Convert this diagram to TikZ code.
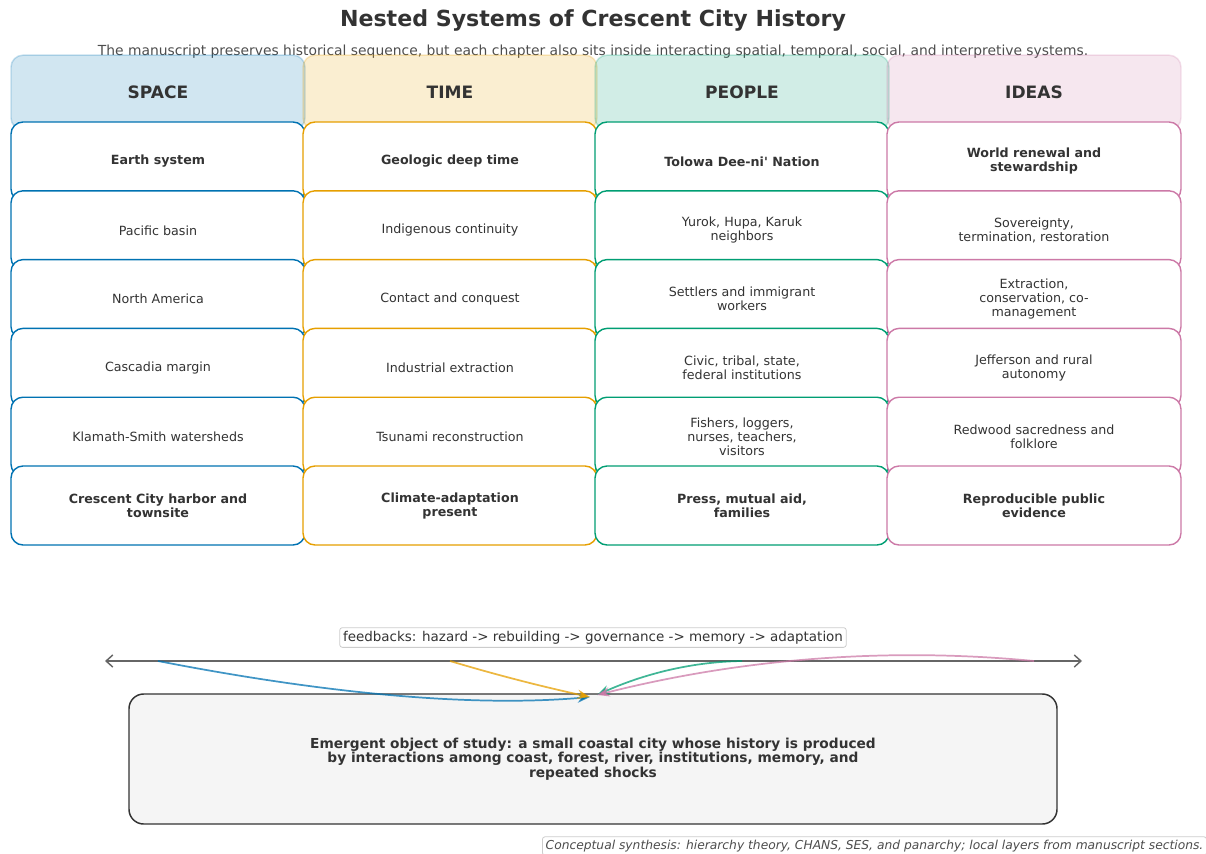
\documentclass[tikz,border=0pt]{standalone}
\usepackage{fontspec}
\setmainfont{DejaVu Sans}
\newfontfamily\plainf{DejaVu Sans}
\usetikzlibrary{arrows.meta}
\definecolor{cblue}{HTML}{0072B2}
\definecolor{corange}{HTML}{E69F00}
\definecolor{cgreen}{HTML}{009E73}
\definecolor{cpink}{HTML}{CC79A7}
\definecolor{txt}{HTML}{333333}
\definecolor{subtxt}{HTML}{4D4D4D}
\definecolor{lgray}{HTML}{CCCCCC}
\definecolor{egray}{HTML}{F5F5F5}
\definecolor{axgray}{HTML}{666666}
\begin{document}
\begin{tikzpicture}[x=0.75pt,y=-0.75pt,
  hdr/.style={rounded corners=9pt, minimum width=220.5pt, minimum height=56pt,
    fill=#1, fill opacity=0.18, draw=#1, draw opacity=0.22, line width=1.1pt,
    text opacity=1, text=txt, inner sep=0pt},
  hlab/.style={text=txt, font=\fontsize{12.8}{15}\selectfont\bfseries},
  cell/.style={rounded corners=9pt, minimum width=220.5pt, minimum height=59.25pt,
    fill=white, draw=#1, line width=1.05pt, align=center, text=txt,
    font=\fontsize{9.5}{10.5}\selectfont, inner sep=0pt},
  bcell/.style={cell=#1, font=\fontsize{9.5}{10.5}\selectfont\bfseries},
  feed/.style={line width=1.3pt, draw=#1, draw opacity=0.75, -{Stealth[length=9.5pt,width=7pt]}},
  tag/.style={draw=lgray, fill=white, rounded corners=2pt, line width=0.6pt, inner xsep=2.5pt, inner ysep=2.5pt}
]
\useasboundingbox (0,0) rectangle (1206,853);

% title
\node[text=txt, font=\fontsize{16.6}{19}\selectfont\bfseries] (title) at (593,20) {Nested Systems of Crescent City History};
\node[text=subtxt, font=\fontsize{10.4}{12}\selectfont] (sub) at (593,52) {The manuscript preserves historical sequence, but each chapter also sits inside interacting spatial, temporal, social, and interpretive systems.};

% headers
\node[hdr=cblue] (hs) at (158,92.5) {};
\node[hdr=corange] (ht) at (450,92.5) {};
\node[hdr=cgreen] (hp) at (742,92.5) {};
\node[hdr=cpink] (hi) at (1034,92.5) {};
\node[hlab] (hsl) at (158,92.5) {SPACE};
\node[hlab] (htl) at (450,92.5) {TIME};
\node[hlab] (hpl) at (742,92.5) {PEOPLE};
\node[hlab] (hil) at (1034,92.5) {IDEAS};

% SPACE column
\node[bcell=cblue] (s1) at (158,161.5) {Earth system};
\node[cell=cblue] (s2) at (158,230.3) {Pacific basin};
\node[cell=cblue] (s3) at (158,299.1) {North America};
\node[cell=cblue] (s4) at (158,367.9) {Cascadia margin};
\node[cell=cblue] (s5) at (158,436.7) {Klamath-Smith watersheds};
\node[bcell=cblue] (s6) at (158,505.5) {Crescent City harbor and\\townsite};

% TIME column
\node[bcell=corange] (t1) at (450,161.5) {Geologic deep time};
\node[cell=corange] (t2) at (450,230.3) {Indigenous continuity};
\node[cell=corange] (t3) at (450,299.1) {Contact and conquest};
\node[cell=corange] (t4) at (450,367.9) {Industrial extraction};
\node[cell=corange] (t5) at (450,436.7) {Tsunami reconstruction};
\node[bcell=corange] (t6) at (450,505.5) {Climate-adaptation\\present};

% PEOPLE column
\node[bcell=cgreen] (p1) at (742,161.5) {Tolowa Dee-ni{\plainf\bfseries'} Nation};
\node[cell=cgreen] (p2) at (742,230.3) {Yurok, Hupa, Karuk\\neighbors};
\node[cell=cgreen] (p3) at (742,299.1) {Settlers and immigrant\\workers};
\node[cell=cgreen] (p4) at (742,367.9) {Civic, tribal, state,\\federal institutions};
\node[cell=cgreen] (p5) at (742,436.7) {Fishers, loggers,\\nurses, teachers,\\visitors};
\node[bcell=cgreen] (p6) at (742,505.5) {Press, mutual aid,\\families};

% IDEAS column
\node[bcell=cpink] (i1) at (1034,161.5) {World renewal and\\stewardship};
\node[cell=cpink] (i2) at (1034,230.3) {Sovereignty,\\termination, restoration};
\node[cell=cpink] (i3) at (1034,299.1) {Extraction,\\conservation, co-\\management};
\node[cell=cpink] (i4) at (1034,367.9) {Jefferson and rural\\autonomy};
\node[cell=cpink] (i5) at (1034,436.7) {Redwood sacredness and\\folklore};
\node[bcell=cpink] (i6) at (1034,505.5) {Reproducible public\\evidence};

% feedback axis
\coordinate (fl) at (105,661);
\coordinate (fr) at (1082,661);
\coordinate (fs) at (158,661);
\coordinate (ft) at (450,661);
\coordinate (fp) at (742,661);
\coordinate (fi) at (1034,661);
\coordinate (ea) at (590,697);
\coordinate (eb) at (597,695);
\draw[axgray, line width=1.1pt, {Straight Barb[length=5pt,width=9pt]}-{Straight Barb[length=5pt,width=9pt]}] (fl) -- (fr);
\node[tag, text=txt, font=\fontsize{10.1}{12}\selectfont] (fb) at (593,637.5) {feedbacks: hazard -> rebuilding -> governance -> memory -> adaptation};

% emergent object
\node[draw=txt, fill=egray, line width=1.1pt, rounded corners=11pt, minimum width=696pt, minimum height=97.5pt,
  align=center, text=txt, font=\fontsize{10.3}{10.9}\selectfont\bfseries] (em) at (593,759)
  {Emergent object of study: a small coastal city whose history is produced\\by interactions among coast, forest, river, institutions, memory, and\\repeated shocks};

% curved feedback arrows
\draw[feed=cblue] (fs) .. controls (332.7,695) and (476.7,707) .. (ea);
\draw[feed=corange] (ft) .. controls (503.3,677) and (550,688.3) .. (ea);
\draw[feed=cgreen] (fp) .. controls (694,661.7) and (645.7,673) .. (eb);
\draw[feed=cpink] (fi) .. controls (888,647) and (742,658.3) .. (eb);

% caption
\node[tag, text=subtxt, font=\fontsize{9.2}{11}\selectfont\itshape] (cap) at (874.5,846) {Conceptual synthesis: hierarchy theory, CHANS, SES, and panarchy; local layers from manuscript sections.};
\end{tikzpicture}
\end{document}
